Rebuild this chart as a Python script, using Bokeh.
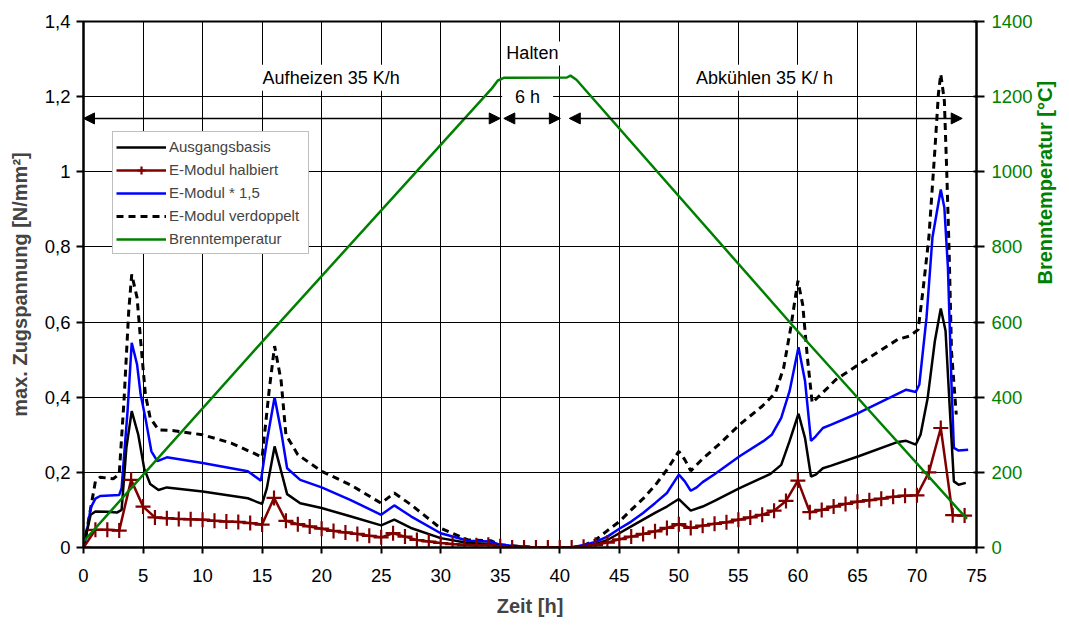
import math

from bokeh.plotting import figure
from bokeh.models import (LinearAxis, Range1d, FixedTicker, Label, Arrow,
                          NormalHead, Legend, LegendItem)
from bokeh.embed import file_html
from bokeh.resources import INLINE

# ---- data -----------------------------------------------------------------
# Ausgangsbasis: max. tensile stress [N/mm²] over firing time [h]
t_base = [0, 0.1, 0.6, 1.0, 2.0, 2.8, 3.2, 3.6, 4.05, 4.6, 5.1, 5.6, 6.3, 7.0,
          10.0, 13.8, 14.6, 15.0, 15.4, 16.05, 16.6, 17.1, 18.2, 20.0, 22.4,
          25.0, 26.1, 27.5, 30.0, 32.3, 34.2, 35.0, 38.0, 41.0, 42.0, 43.0,
          44.0, 45.0, 46.0, 47.0, 48.0, 49.0, 50.0, 51.0, 52.0, 53.0, 55.1,
          57.7, 58.6, 59.3, 60.05, 60.6, 61.1, 61.5, 62.1, 62.8, 65.1, 68.4,
          69.1, 69.9, 70.3, 70.9, 71.5, 72.0, 72.4, 72.8, 73.1, 73.5, 74.1]
v_base = [0, 0.016, 0.087, 0.096, 0.095, 0.093, 0.10, 0.265, 0.363, 0.30,
          0.21, 0.169, 0.153, 0.16, 0.149, 0.131, 0.121, 0.116, 0.158, 0.269,
          0.203, 0.142, 0.118, 0.105, 0.083, 0.059, 0.074, 0.052, 0.025,
          0.012, 0.009, 0.003, 0.0, 0.0, 0.002, 0.009, 0.02, 0.038, 0.056,
          0.074, 0.092, 0.109, 0.129, 0.098, 0.109, 0.124, 0.158, 0.196, 0.22,
          0.283, 0.356, 0.291, 0.189, 0.194, 0.211, 0.218, 0.243, 0.281,
          0.284, 0.274, 0.3, 0.398, 0.549, 0.636, 0.577, 0.345, 0.176, 0.167,
          0.172]

# E-Modul halbiert (values at every full hour 0..74)
t_half = list(range(0, 75))
v_half = [0, 0.047, 0.047, 0.045, 0.18, 0.109, 0.08, 0.078, 0.076, 0.075,
          0.074, 0.071, 0.069, 0.068, 0.065, 0.061, 0.132, 0.071, 0.062,
          0.056, 0.05, 0.044, 0.04, 0.036, 0.031, 0.027, 0.038, 0.029, 0.02,
          0.016, 0.012, 0.009, 0.007, 0.006, 0.007, 0.003, 0, 0, 0, 0, 0, 0,
          0.002, 0.007, 0.013, 0.022, 0.029, 0.036, 0.043, 0.052, 0.062,
          0.052, 0.058, 0.063, 0.067, 0.074, 0.08, 0.087, 0.098, 0.124, 0.178,
          0.094, 0.1, 0.109, 0.116, 0.122, 0.126, 0.13, 0.135, 0.138, 0.139,
          0.2, 0.318, 0.086, 0.085]

# E-Modul * 1,5
t_15 = [0, 0.2, 0.6, 1.0, 1.4, 3.0, 3.2, 3.7, 4.05, 4.5, 4.8, 5.2, 5.7, 6.2,
        7.0, 10.0, 13.8, 14.9, 15.4, 16.05, 16.6, 17.1, 18.2, 20.0, 22.4,
        25.0, 26.1, 27.5, 30.0, 32.3, 34.2, 35.0, 38.0, 41.0, 42.0, 43.0,
        44.0, 45.0, 46.0, 47.0, 48.0, 49.0, 50.0, 50.5, 51.0, 51.5, 52.0,
        53.0, 55.1, 57.1, 57.8, 58.6, 59.3, 60.05, 60.6, 61.1, 61.5, 62.1,
        62.8, 65.1, 69.1, 69.9, 70.2, 70.8, 71.3, 72.0, 72.3, 72.6, 72.9,
        73.1, 73.5, 74.3]
v_15 = [0, 0.025, 0.105, 0.13, 0.137, 0.14, 0.158, 0.363, 0.545, 0.487,
        0.407, 0.345, 0.256, 0.23, 0.24, 0.225, 0.203, 0.178, 0.283, 0.400,
        0.309, 0.211, 0.18, 0.16, 0.127, 0.087, 0.112, 0.083, 0.038, 0.018,
        0.016, 0.007, 0.0, 0.0, 0.007, 0.015, 0.029, 0.05, 0.069, 0.092,
        0.118, 0.145, 0.194, 0.176, 0.151, 0.16, 0.174, 0.195, 0.243, 0.283,
        0.3, 0.345, 0.416, 0.533, 0.443, 0.284, 0.296, 0.318, 0.327, 0.358,
        0.42, 0.414, 0.434, 0.611, 0.825, 0.953, 0.905, 0.745, 0.434, 0.265,
        0.258, 0.26]

# E-Modul verdoppelt
t_double = [0, 0.3, 1.0, 1.4, 2.5, 3.0, 3.4, 3.8, 4.05, 4.5, 4.8, 5.2, 5.6,
            6.3, 7.6, 10.0, 12.4, 14.3, 15.0, 15.2, 15.6, 16.05, 16.6, 17.0,
            18.0, 20.0, 22.4, 25.0, 26.1, 27.5, 30.0, 32.3, 34.2, 35.0, 38.0,
            41.0, 42.0, 43.0, 44.0, 45.0, 46.0, 47.0, 48.0, 49.0, 50.0, 50.5,
            51.0, 52.0, 53.5, 55.1, 57.0, 58.1, 58.8, 59.4, 60.0, 60.4, 60.8,
            61.2, 62.5, 63.2, 65.1, 68.4, 69.4, 70.1, 70.5, 71.0, 71.5, 71.8,
            72.0, 72.3, 72.5, 72.7, 72.9, 73.3]
v_double = [0, 0.05, 0.176, 0.187, 0.183, 0.195, 0.39, 0.63, 0.727, 0.665,
            0.55, 0.407, 0.345, 0.313, 0.311, 0.3, 0.278, 0.251, 0.24, 0.30,
            0.42, 0.536, 0.443, 0.30, 0.247, 0.203, 0.167, 0.118, 0.145,
            0.114, 0.051, 0.02, 0.018, 0.007, 0.0, 0.0, 0.005, 0.02, 0.045,
            0.069, 0.1, 0.13, 0.165, 0.207, 0.256, 0.234, 0.204, 0.236, 0.278,
            0.327, 0.376, 0.411, 0.478, 0.585, 0.71, 0.647, 0.505, 0.385,
            0.425, 0.447, 0.487, 0.554, 0.563, 0.58, 0.683, 0.825, 1.056,
            1.207, 1.26, 1.189, 1.002, 0.789, 0.523, 0.354]

# Brenntemperatur [°C]
t_temp = [0, 15.7, 34.3, 34.8, 35.3, 40.6, 40.9, 41.4, 60.0, 74.2]
temp = [16, 572, 1222, 1243, 1250, 1251, 1256, 1245, 575, 76]

x_ticks = list(range(0, 80, 5))
y_ticks = [0, 0.2, 0.4, 0.6, 0.8, 1.0, 1.2, 1.4]
y_tick_labels = ["0", "0,2", "0,4", "0,6", "0,8", "1", "1,2", "1,4"]
temp_ticks = [0, 200, 400, 600, 800, 1000, 1200, 1400]

FONT = "Liberation Sans"
RED = "#800000"
GREEN = "#008000"
BLUE = "#0000FF"

# ---- figure ---------------------------------------------------------------
p = figure(width=1069, height=626, x_range=Range1d(0, 75),
           y_range=Range1d(0, 1.4), output_backend="svg",
           toolbar_location=None, min_border_left=83, min_border_right=92,
           min_border_top=21, min_border_bottom=79)
p.background_fill_color = "white"
p.border_fill_color = "white"
p.outline_line_color = "black"
p.outline_line_width = 2
p.extra_y_ranges = {"temp": Range1d(0, 1400)}

xa = p.xaxis[0]
xa.ticker = FixedTicker(ticks=x_ticks)
xa.axis_label = "Zeit [h]"
ya = p.yaxis[0]
ya.ticker = FixedTicker(ticks=y_ticks)
ya.major_label_overrides = dict(zip(y_ticks, y_tick_labels))
ya.axis_label = "max. Zugspannung [N/mm²]"

ra = LinearAxis(y_range_name="temp", ticker=FixedTicker(ticks=temp_ticks),
                axis_label="Brenntemperatur [°C]")
p.add_layout(ra, "right")
# read the right-hand title bottom-to-top, like the left one
if "axis_label_orientation" in ra.properties():
    ra.axis_label_orientation = math.pi / 2

for ax in (xa, ya, ra):
    ax.axis_line_width = 2
    ax.axis_line_color = "black"
    ax.major_tick_line_width = 2
    ax.major_tick_line_color = "black"
    ax.minor_tick_out = 0
    ax.minor_tick_in = 0
    ax.major_label_text_font = FONT
    ax.major_label_text_font_size = "18.5px"
    ax.major_label_text_color = "black"
    ax.axis_label_text_font = FONT
    ax.axis_label_text_font_size = "20px"
    ax.axis_label_text_font_style = "bold"

xa.major_tick_in = 0
xa.major_tick_out = 6
xa.major_label_standoff = 15
xa.axis_label_standoff = 10
ya.major_tick_in = 0
ya.major_tick_out = 7
ya.major_label_standoff = 6
ya.axis_label_standoff = 11
ra.major_tick_in = 3
ra.major_tick_out = 8
ra.major_label_standoff = 7
ra.axis_label_standoff = 9
ra.major_label_text_color = GREEN
ra.axis_label_text_color = GREEN

for g in (p.xgrid[0], p.ygrid[0]):
    g.grid_line_color = "black"
    g.grid_line_width = 1
    g.grid_line_alpha = 1

# ---- series ---------------------------------------------------------------
r_double = p.line(t_double, v_double, line_color="black", line_width=3,
                  line_dash="7 5")
r_15 = p.line(t_15, v_15, line_color=BLUE, line_width=2.5)
r_base = p.line(t_base, v_base, line_color="black", line_width=2.5)
r_half = p.line(t_half, v_half, line_color=RED, line_width=2.5)
r_half_m = p.scatter(t_half, v_half, marker="cross", size=15,
                     line_color=RED, line_width=2.2)
r_temp = p.line(t_temp, temp, y_range_name="temp", line_color=GREEN,
                line_width=2.5)

legend = Legend(items=[
    LegendItem(label="Ausgangsbasis", renderers=[r_base]),
    LegendItem(label="E-Modul halbiert", renderers=[r_half, r_half_m]),
    LegendItem(label="E-Modul * 1,5", renderers=[r_15]),
    LegendItem(label="E-Modul verdoppelt", renderers=[r_double]),
    LegendItem(label="Brenntemperatur", renderers=[r_temp]),
], location=(29, 293))
legend.label_text_font = FONT
legend.label_text_font_size = "15px"
legend.glyph_width = 50
legend.glyph_height = 20
legend.label_height = 23
legend.label_width = 136
legend.label_standoff = 3
legend.spacing = 0
legend.padding = 3
legend.margin = 0
legend.border_line_color = "#808080"
legend.border_line_width = 1
legend.background_fill_color = "white"
legend.background_fill_alpha = 1
p.add_layout(legend)

# ---- phase annotations ----------------------------------------------------
# drawn in the underlay, so they mask the grid but stay below the curves
def phase_label(x, y, text, pad):
    p.add_layout(Label(x=x, y=y, text=text, text_align="center",
                       text_baseline="middle", text_font=FONT,
                       text_font_size="18px", text_color="black",
                       background_fill_color="white", padding=pad,
                       level="underlay"))

phase_label(20.8, 1.25, "Aufheizen 35 K/h", (4, 3))
phase_label(57.2, 1.25, "Abkühlen 35 K/ h", (4, 3))
phase_label(37.7, 1.315, "Halten", (4, 2))
phase_label(37.3, 1.2, "6 h", (13, 2))

y_arrow = 1.142
for xs, xe in ((0, 35.0), (35.3, 40.05), (40.8, 73.8)):
    p.add_layout(Arrow(
        start=NormalHead(size=11, fill_color="black", line_color="black"),
        end=NormalHead(size=11, fill_color="black", line_color="black"),
        x_start=xs, y_start=y_arrow, x_end=xe, y_end=y_arrow,
        line_color="black", line_width=1.5))

open("out.html", "w").write(file_html(p, INLINE))
